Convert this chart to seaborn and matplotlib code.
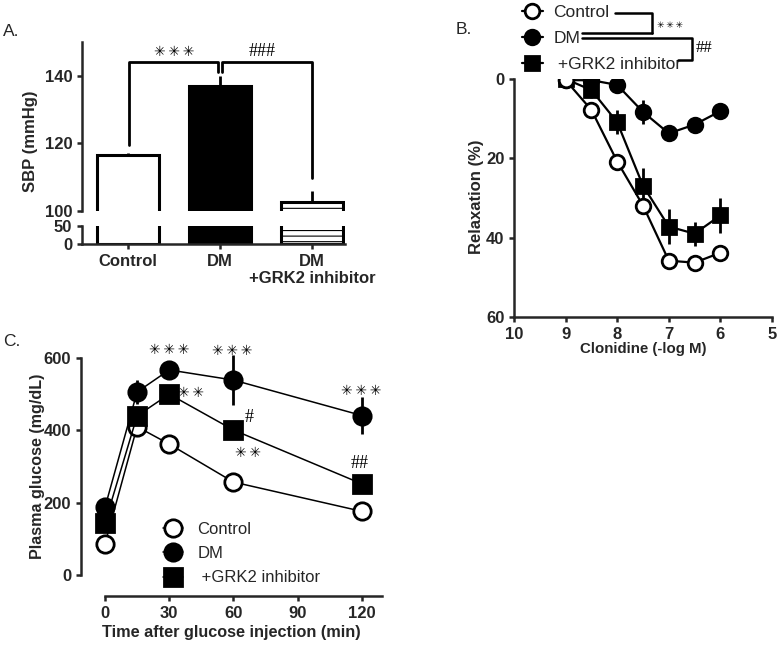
import matplotlib
matplotlib.use("Agg")
import matplotlib.pyplot as plt
import seaborn as sns
import pandas as pd
from matplotlib.lines import Line2D

# ---- data ----
groups_A = ["Control", "DM", "DM\n+GRK2 inhibitor"]
sbp_mean = [116.6, 137.0, 102.7]
sbp_err = [0.6, 3.0, 3.3]

conc_B = [9, 8.5, 8, 7.5, 7, 6.5, 6]
ctrl_B = [0.3, 7.8, 20.8, 31.9, 45.8, 46.3, 43.8]
ctrl_B_err = [0.5, 1.0, 1.0, 2.0, 1.0, 1.0, 2.0]
dm_B = [0.3, 0.3, 1.5, 8.3, 13.7, 11.5, 8.1]
dm_B_err = [0.5, 0.5, 1.0, 3.0, 1.0, 1.0, 1.0]
grk_B = [0.0, 2.8, 10.9, 26.9, 37.2, 39.0, 34.4]
grk_B_err = [0.5, 2.0, 3.0, 4.5, 4.5, 3.0, 4.5]

time_C = [0, 15, 30, 60, 120]
ctrl_C = [86, 410, 362, 257, 176]
ctrl_C_err = [10, 15, 10, 10, 10]
dm_C = [187, 506, 567, 539, 441]
dm_C_err = [15, 33, 20, 70, 50]
grk_C = [144, 440, 500, 401, 252]
grk_C_err = [20, 20, 15, 10, 10]

legend_labels = ["Control", "DM", " +GRK2 inhibitor"]

sns.set_style("ticks")
plt.rcParams['font.family'] = ['Liberation Sans', 'DejaVu Sans']
plt.rcParams['font.weight'] = 'bold'
plt.rcParams['axes.labelweight'] = 'bold'
plt.rcParams['axes.linewidth'] = 1.8
plt.rcParams['xtick.major.width'] = 1.8
plt.rcParams['ytick.major.width'] = 1.8
plt.rcParams['xtick.major.size'] = 3.5
plt.rcParams['ytick.major.size'] = 3.5
plt.rcParams['xtick.labelsize'] = 12
plt.rcParams['ytick.labelsize'] = 12
plt.rcParams['hatch.linewidth'] = 0.8

W, H = 778, 647
fig = plt.figure(figsize=(W / 100, H / 100), dpi=100)


def rect(l, t, r, b):
    return [l / W, 1 - b / H, (r - l) / W, (b - t) / H]


def fp(x, y):
    return (x / W, 1 - y / H)


def fig_line(xs, ys, lw=1.8):
    fig.add_artist(Line2D([x / W for x in xs], [1 - y / H for y in ys],
                          transform=fig.transFigure, color='black', lw=lw))


star_font = dict(family='DejaVu Sans', weight='normal', color='black')
hash_font = dict(family='Liberation Serif', weight='normal', color='black')
STARS3 = "\u2733\u2009\u2733\u2009\u2733"
STARS2 = "\u2733\u2009\u2733"

# ---- panel A (broken axis bar chart) ----
dfA = pd.DataFrame({"group": groups_A, "sbp": sbp_mean})
axA_top = fig.add_axes(rect(82, 42, 345, 211))
axA_bot = fig.add_axes(rect(82, 226, 345, 244))
faces = ['white', 'black', 'white']
hatches = [None, None, '---']
for ax in (axA_top, axA_bot):
    sns.barplot(data=dfA, x="group", y="sbp", ax=ax, width=0.674, errorbar=None,
                color='white', edgecolor='black', linewidth=2.2)
    for p, fc, h in zip(ax.patches, faces, hatches):
        p.set_facecolor(fc)
        p.set_edgecolor('black')
        if h:
            p.set_hatch(h)
    ax.errorbar(range(3), sbp_mean, yerr=[[0, 0, 0], sbp_err], fmt='none',
                ecolor='black', elinewidth=2, capsize=0)
    ax.set_xlim(-0.5, 2.36)
    ax.set_xlabel('')
    ax.set_ylabel('')
    sns.despine(ax=ax)

axA_top.set_ylim(100, 150)
axA_top.set_yticks([100, 120, 140])
axA_top.spines['bottom'].set_visible(False)
axA_top.tick_params(axis='x', bottom=False, labelbottom=False)
axA_bot.set_ylim(0, 50)
axA_bot.set_yticks([0, 50])
axA_bot.set_xticks([0, 1, 2])
axA_bot.set_xticklabels(groups_A, fontsize=12, fontweight='bold')

# significance brackets
axA_top.plot([0.01, 0.01, 0.98, 0.98], [119.6, 144.1, 144.1, 141.2],
             color='black', lw=2, clip_on=False)
axA_top.plot([1.02, 1.02, 2.0, 2.0], [141.2, 144.1, 144.1, 109.8],
             color='black', lw=2, clip_on=False)
fig.text(*fp(174, 52), STARS3, ha='center', va='center', fontsize=10, **star_font)
fig.text(*fp(262, 52), "###", ha='center', va='center', fontsize=13, **hash_font)
fig.text(*fp(31, 141), "SBP (mmHg)", rotation=90, ha='center', va='center',
         fontsize=12, fontweight='bold')
fig.text(*fp(3, 31), "A.", ha='left', va='center', fontsize=12.5, fontweight='normal')

# ---- panel B ----
axB = fig.add_axes(rect(514, 79, 772, 317))
handlesB = {}
for name, vals, errs, mk, fc in [("grk", grk_B, grk_B_err, 's', 'black'),
                                 ("dm", dm_B, dm_B_err, 'o', 'black'),
                                 ("ctrl", ctrl_B, ctrl_B_err, 'o', 'white')]:
    axB.errorbar(conc_B, vals, yerr=errs, fmt='none', ecolor='black', elinewidth=2,
                 capsize=0, zorder=2)
    sns.lineplot(x=conc_B, y=vals, ax=axB, color='black', lw=1.6, marker=mk,
                 markersize=10.5, markerfacecolor=fc, markeredgecolor='black',
                 markeredgewidth=2, zorder=3)
    handlesB[name] = axB.lines[-1]
axB.set_xlim(10, 5)
axB.set_ylim(60, 0)
axB.set_xticks([10, 9, 8, 7, 6, 5])
axB.set_yticks([0, 20, 40, 60])
axB.set_xlabel("Clonidine (-log M)", fontsize=10.8, labelpad=0)
axB.set_ylabel("")
sns.despine(ax=axB)
fig.text(*fp(477, 197), "Relaxation (%)", rotation=90, ha='center', va='center',
         fontsize=12, fontweight='bold')
axB.legend([handlesB["ctrl"], handlesB["dm"], handlesB["grk"]], legend_labels,
           loc='upper left', bbox_to_anchor=fp(522, 5), bbox_transform=fig.transFigure,
           frameon=False, borderpad=0, borderaxespad=0, handlelength=1.2,
           handletextpad=0.6, labelspacing=0.62,
           prop=dict(family='Liberation Sans', weight='normal', size=12.5))
fig_line([615, 652, 652], [13, 13, 33])
fig_line([582, 652], [33, 33])
fig_line([582, 692, 692, 678], [38, 38, 60, 60])
fig.text(*fp(670, 25), STARS3, ha='center', va='center', fontsize=6.5, **star_font)
fig.text(*fp(704, 48), "##", ha='center', va='center', fontsize=12, **hash_font)
fig.text(*fp(456, 29), "B.", ha='left', va='center', fontsize=12.5, fontweight='normal')

# ---- panel C ----
axC = fig.add_axes(rect(81, 358, 382, 575))
handlesC = {}
for name, vals, errs, mk, fc in [("ctrl", ctrl_C, ctrl_C_err, 'o', 'white'),
                                 ("dm", dm_C, dm_C_err, 'o', 'black'),
                                 ("grk", grk_C, grk_C_err, 's', 'black')]:
    axC.errorbar(time_C, vals, yerr=errs, fmt='none', ecolor='black', elinewidth=2,
                 capsize=0, zorder=2, clip_on=False)
    sns.lineplot(x=time_C, y=vals, ax=axC, color='black', lw=1.1, marker=mk,
                 markersize=12.5, markerfacecolor=fc, markeredgecolor='black',
                 markeredgewidth=2, zorder=3, clip_on=False)
    handlesC[name] = axC.lines[-1]
axC.set_xlim(-11.2, 129.4)
axC.set_ylim(0, 600)
axC.set_xticks([0, 30, 60, 90, 120])
axC.set_yticks([0, 200, 400, 600])
sns.despine(ax=axC)
axC.spines['bottom'].set_position(('outward', 15))
axC.spines['bottom'].set_bounds(0, 129.4)
axC.set_xlabel("Time after glucose injection (min)", fontsize=11.7, labelpad=3)
axC.set_ylabel("")
fig.text(*fp(38, 466), "Plasma glucose (mg/dL)", rotation=90, ha='center', va='center',
         fontsize=11.6, fontweight='bold')
axC.legend([handlesC["ctrl"], handlesC["dm"], handlesC["grk"]], legend_labels,
           loc='upper left', bbox_to_anchor=fp(163, 522), bbox_transform=fig.transFigure,
           frameon=False, borderpad=0, borderaxespad=0, handlelength=1.2,
           handletextpad=0.85, labelspacing=0.55,
           prop=dict(family='Liberation Sans', weight='normal', size=12))
for tx, ty, s in [(30, 623, STARS3), (40, 503, STARS2), (59.5, 620, STARS3),
                  (119.6, 509, STARS3), (66.7, 337, STARS2)]:
    axC.text(tx, ty, s, ha='center', va='center', fontsize=10, clip_on=False, **star_font)
for tx, ty, s in [(67.5, 436, "#"), (119, 308, "##")]:
    axC.text(tx, ty, s, ha='center', va='center', fontsize=13, clip_on=False, **hash_font)
fig.text(*fp(3, 342), "C.", ha='left', va='center', fontsize=12.5, fontweight='normal')

fig.savefig("out.png", dpi=100)
